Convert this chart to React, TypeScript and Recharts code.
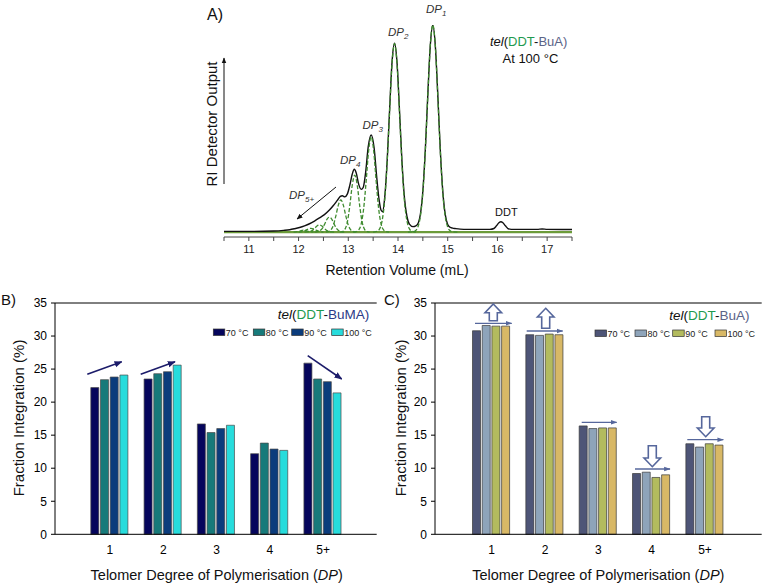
import React from 'react';
import { LineChart, Line, XAxis, YAxis, BarChart, Bar, ReferenceLine } from 'recharts';

const FONT = '"Liberation Sans", Arial, Helvetica, sans-serif';

// ---------- Panel A: chromatogram (retention volume mL, RI signal, relative) ----------
const volumeTicks = [10.5, 11, 11.5, 12, 12.5, 13, 13.5, 14, 14.5, 15, 15.5, 16, 16.5, 17, 17.5];

const traceVolume = [10.5, 11.0, 11.5, 11.7, 11.82, 11.92, 12.02, 12.12, 12.22, 12.32, 12.42, 12.52, 12.62, 12.7, 12.78, 12.84, 12.88, 12.93, 12.98, 13.03, 13.08, 13.12, 13.16, 13.21, 13.26, 13.3, 13.35, 13.4, 13.46, 13.52, 13.57, 13.62, 13.66, 13.69, 13.73, 13.78, 13.83, 13.88, 13.93, 13.98, 14.03, 14.08, 14.13, 14.18, 14.23, 14.3, 14.36, 14.41, 14.45, 14.5, 14.55, 14.6, 14.65, 14.7, 14.75, 14.8, 14.85, 14.9, 14.95, 15.0, 15.05, 15.1, 15.15, 15.25, 15.4, 15.85, 15.93, 15.98, 16.03, 16.07, 16.11, 16.16, 16.21, 16.28, 16.8, 16.9, 17.0, 17.5];
const traceSignal = [0.3, 0.3, 0.5, 0.8, 1.1, 1.6, 2.2, 3.0, 4.0, 5.3, 6.8, 8.4, 10.6, 12.8, 15.3, 17.2, 17.5, 17.0, 18.3, 22.5, 28.0, 30.3, 28.5, 23.0, 20.6, 21.5, 29.0, 41.0, 46.9, 40.5, 27.0, 15.5, 10.5, 9.8, 16.0, 33.5, 58.5, 82.0, 91.2, 82.0, 58.8, 34.0, 16.5, 7.5, 3.8, 2.6, 3.0, 4.5, 8.5, 19.8, 40.0, 66.5, 90.2, 100, 90.2, 66.5, 40.0, 20.0, 8.5, 3.6, 2.2, 1.9, 1.7, 1.4, 1.3, 1.3, 1.7, 3.0, 4.5, 5.0, 4.5, 3.0, 1.7, 1.3, 1.3, 1.5, 1.3, 1.2];

const baselineVolume = [10.5, 17.5];
const baselineSignal = [0, 0];

// deconvoluted DP fractions [volume, signal]
const fitDP1 = [[14.2, 0], [14.3, 0.1], [14.35, 0.6], [14.4, 2.4], [14.45, 7.6], [14.5, 19.1], [14.55, 39.5], [14.6, 66.2], [14.65, 90.2], [14.7, 100], [14.75, 90.2], [14.8, 66.2], [14.85, 39.5], [14.9, 19.1], [14.95, 7.6], [15.0, 2.4], [15.05, 0.6], [15.1, 0.1], [15.2, 0]];
const fitDP2 = [[13.5, 0], [13.58, 0.4], [13.63, 1.5], [13.68, 5.4], [13.73, 14.8], [13.78, 32.8], [13.83, 57.8], [13.88, 81.3], [13.93, 91], [13.98, 81.3], [14.03, 57.8], [14.08, 32.8], [14.13, 14.8], [14.18, 5.4], [14.23, 1.5], [14.28, 0.4], [14.36, 0]];
const fitDP3 = [[13.1, 0], [13.16, 0.2], [13.21, 1.0], [13.26, 3.9], [13.31, 11.5], [13.36, 24.8], [13.41, 39.4], [13.46, 46], [13.51, 39.4], [13.56, 24.8], [13.61, 11.5], [13.66, 3.9], [13.71, 1.0], [13.76, 0.2], [13.82, 0]];
const fitDP4 = [[12.83, 0], [12.88, 0.2], [12.93, 1.2], [12.98, 4.7], [13.03, 12.6], [13.08, 22.6], [13.13, 27.5], [13.18, 22.6], [13.23, 12.6], [13.28, 4.7], [13.33, 1.2], [13.38, 0.2], [13.43, 0]];
const fitDP5 = [[12.55, 0], [12.6, 0.2], [12.65, 1.0], [12.7, 3.3], [12.75, 7.8], [12.8, 13.0], [12.85, 15.5], [12.9, 13.0], [12.95, 7.8], [13.0, 3.3], [13.05, 1.0], [13.1, 0.2], [13.15, 0]];
const fitDP6 = [[12.32, 0], [12.37, 0.1], [12.42, 0.5], [12.47, 1.5], [12.52, 3.6], [12.57, 6.1], [12.62, 7.2], [12.67, 6.1], [12.72, 3.6], [12.77, 1.5], [12.82, 0.5], [12.87, 0.1], [12.92, 0]];
const fitDP7 = [[12.12, 0], [12.17, 0.05], [12.22, 0.2], [12.27, 0.7], [12.32, 1.7], [12.37, 2.9], [12.42, 3.4], [12.47, 2.9], [12.52, 1.7], [12.57, 0.7], [12.62, 0.2], [12.67, 0.05], [12.72, 0]];
const fitDP8 = [[12.0, 0], [12.05, 0.1], [12.1, 0.4], [12.15, 0.9], [12.2, 1.5], [12.25, 1.8], [12.3, 1.5], [12.35, 0.9], [12.4, 0.4], [12.45, 0.1], [12.5, 0]];
const fitDP9 = [[11.9, 0], [11.95, 0.1], [12.0, 0.3], [12.05, 0.7], [12.1, 0.9], [12.15, 0.7], [12.2, 0.3], [12.25, 0.1], [12.3, 0]];
const fitSeries = [fitDP1, fitDP2, fitDP3, fitDP4, fitDP5, fitDP6, fitDP7, fitDP8, fitDP9];

// ---------- Panels B & C: fraction integration (%) ----------
const dpCategories = ['1', '2', '3', '4', '5+'];
const fractionTicks = [0, 5, 10, 15, 20, 25, 30, 35];
const tempLabels = ['70 °C', '80 °C', '90 °C', '100 °C'];

const buma70 = [22.2, 23.5, 16.7, 12.2, 25.9];
const buma80 = [23.4, 24.3, 15.4, 13.8, 23.5];
const buma90 = [23.8, 24.6, 16.0, 12.9, 23.1];
const buma100 = [24.1, 25.6, 16.5, 12.7, 21.4];

const bua70 = [30.8, 30.2, 16.4, 9.2, 13.7];
const bua80 = [31.6, 30.1, 16.0, 9.4, 13.2];
const bua90 = [31.5, 30.3, 16.1, 8.6, 13.7];
const bua100 = [31.5, 30.2, 16.1, 9.0, 13.5];

const colorsB = ['#05055c', '#177a7a', '#0b3c7c', '#27dcdc'];
const colorsC = ['#4e5577', '#8ea4ba', '#b3bb5e', '#d8b866'];

const toXY = (xs: number[], ys: number[]) => xs.map((v, i) => ({ v, y: ys[i] }));
const pairs = (p: number[][]) => p.map(([v, y]) => ({ v, y }));

const traceData = toXY(traceVolume, traceSignal);
const baselineData = toXY(baselineVolume, baselineSignal);

const dataB = dpCategories.map((dp, i) => ({ dp, t70: buma70[i], t80: buma80[i], t90: buma90[i], t100: buma100[i] }));
const dataC = dpCategories.map((dp, i) => ({ dp, t70: bua70[i], t80: bua80[i], t90: bua90[i], t100: bua100[i] }));
const keys = ['t70', 't80', 't90', 't100'];

const DDT_GREEN = '#1f9a4f';

function DPLabel({ x, y, sub }: { x: number; y: number; sub: string }) {
  return (
    <text x={x} y={y} fontSize={11.5} fontStyle="italic" fill="#333" fontFamily={FONT}>
      DP<tspan dy={3} fontSize={8}>{sub}</tspan>
    </text>
  );
}

function BlockArrow({ cx, tip, base, dir }: { cx: number; tip: number; base: number; dir: 'up' | 'down' }) {
  const hw = 8.3, sw = 4;
  const s = dir === 'up' ? 1 : -1;
  const neck = tip + s * 8.7;
  const pts = [
    [cx, tip], [cx + hw, neck], [cx + sw, neck], [cx + sw, base], [cx - sw, base], [cx - sw, neck], [cx - hw, neck],
  ].map((p) => p.join(',')).join(' ');
  return <polygon points={pts} fill="#fff" stroke="#56679c" strokeWidth={1.6} strokeLinejoin="miter" />;
}

function Legend4({ x0s, y, colors }: { x0s: number[]; y: number; colors: string[] }) {
  return (
    <g>
      {tempLabels.map((t, i) => (
        <g key={t}>
          <rect x={x0s[i]} y={y} width={11.5} height={6.5} fill={colors[i]} stroke="#333" strokeWidth={0.7} />
          <text x={x0s[i] + 12.5} y={y + 6.8} fontSize={9} fill="#222" fontFamily={FONT}>{t}</text>
        </g>
      ))}
    </g>
  );
}

export default function App() {
  const tickStyle = { fontSize: 12, fill: '#000', fontFamily: FONT };
  return (
    <div style={{ position: 'absolute', left: 0, top: 0, width: 763, height: 586, background: '#fff', overflow: 'hidden', fontFamily: FONT }}>
      {/* Panel A */}
      <div style={{ position: 'absolute', left: 0, top: 0 }}>
        <LineChart width={763} height={300} margin={{ top: 25, right: 191, bottom: 33, left: 224 }}>
          <XAxis
            dataKey="v"
            type="number"
            domain={[10.5, 17.5]}
            ticks={volumeTicks}
            interval={0}
            allowDataOverflow
            tickFormatter={(t: number) => (Number.isInteger(t) ? String(t) : '')}
            height={30}
            tickSize={4}
            tickMargin={4}
            stroke="#444"
            tick={{ fontSize: 11, fill: '#222', fontFamily: FONT }}
          />
          <YAxis type="number" domain={[-2.4, 100]} hide allowDataOverflow />
          <Line data={baselineData} dataKey="y" type="linear" stroke="#6c9b3a" strokeWidth={2.2} dot={false} isAnimationActive={false} />
          <Line data={traceData} dataKey="y" type="monotone" stroke="#111" strokeWidth={1.4} dot={false} isAnimationActive={false} />
          {fitSeries.map((s, i) => (
            <Line key={i} data={pairs(s)} dataKey="y" type="monotone" stroke="#3f8b2f" strokeWidth={1.3} strokeDasharray="4 2" dot={false} isAnimationActive={false} />
          ))}
        </LineChart>
      </div>

      {/* Panel B */}
      <div style={{ position: 'absolute', left: 0, top: 290 }}>
        <BarChart width={380} height={296} data={dataB} margin={{ top: 13, right: 3.3, bottom: 21.7, left: 25 }} barCategoryGap={7.5} barGap={1.7}>
          <XAxis dataKey="dp" padding={{ left: 28.3, right: 27 }} tickLine={false} stroke="#000" height={30} tickSize={6} tickMargin={5} tick={tickStyle} />
          <YAxis domain={[0, 35]} ticks={fractionTicks} width={30} tickSize={4} tickMargin={4} stroke="#000" tick={tickStyle} />
          <YAxis yAxisId="r" orientation="right" domain={[0, 35]} width={0} tick={false} tickLine={false} stroke="#000" />
          <ReferenceLine y={35} stroke="#000" />
          {keys.map((k, i) => (
            <Bar key={k} dataKey={k} name={tempLabels[i]} fill={colorsB[i]} stroke="#4a4a4a" strokeWidth={0.7} isAnimationActive={false} />
          ))}
        </BarChart>
      </div>

      {/* Panel C */}
      <div style={{ position: 'absolute', left: 380, top: 290 }}>
        <BarChart width={383} height={296} data={dataC} margin={{ top: 13, right: 1.3, bottom: 21.7, left: 25 }} barCategoryGap={7.5} barGap={1.7}>
          <XAxis dataKey="dp" padding={{ left: 30, right: 30 }} tickLine={false} stroke="#000" height={30} tickSize={6} tickMargin={5} tick={tickStyle} />
          <YAxis domain={[0, 35]} ticks={fractionTicks} width={30} tickSize={4} tickMargin={4} stroke="#000" tick={tickStyle} />
          <YAxis yAxisId="r" orientation="right" domain={[0, 35]} width={0} tick={false} tickLine={false} stroke="#000" />
          <ReferenceLine y={35} stroke="#000" />
          {keys.map((k, i) => (
            <Bar key={k} dataKey={k} name={tempLabels[i]} fill={colorsC[i]} stroke="#3a3a3a" strokeWidth={0.7} isAnimationActive={false} />
          ))}
        </BarChart>
      </div>

      {/* Annotations */}
      <svg width={763} height={586} style={{ position: 'absolute', left: 0, top: 0, pointerEvents: 'none' }} fontFamily={FONT}>
        <defs>
          <marker id="hBlack" viewBox="0 0 10 10" refX="9" refY="5" markerWidth="6" markerHeight="6" orient="auto">
            <path d="M0,1 L10,5 L0,9 z" fill="#111" />
          </marker>
          <marker id="hNavy" viewBox="0 0 10 10" refX="9" refY="5" markerWidth="5" markerHeight="5" orient="auto">
            <path d="M0,1 L10,5 L0,9 z" fill="#1c1c6a" />
          </marker>
          <marker id="hSlate" viewBox="0 0 10 10" refX="9" refY="5" markerWidth="5" markerHeight="5" orient="auto">
            <path d="M0,1.5 L10,5 L0,8.5 z" fill="#56679c" />
          </marker>
        </defs>

        {/* Panel A texts */}
        <text x={207} y={20} fontSize={16} fill="#111">A)</text>
        <line x1={224} y1={184} x2={224} y2={58} stroke="#111" strokeWidth={1} markerEnd="url(#hBlack)" />
        <text transform="translate(217,124) rotate(-90)" textAnchor="middle" fontSize={15} fill="#111">RI Detector Output</text>
        <text x={397} y={275} textAnchor="middle" fontSize={14} fill="#111">Retention Volume (mL)</text>
        <DPLabel x={426} y={13} sub="1" />
        <DPLabel x={388} y={36} sub="2" />
        <DPLabel x={362.5} y={128.5} sub="3" />
        <DPLabel x={340} y={164} sub="4" />
        <DPLabel x={289} y={199} sub="5+" />
        <line x1={336} y1={187} x2={297} y2={219} stroke="#111" strokeWidth={1} markerEnd="url(#hBlack)" />
        <text x={495} y={216} fontSize={11} fill="#111">DDT</text>
        <text x={490} y={46} fontSize={13} fill="#111">
          <tspan fontStyle="italic">tel</tspan>(<tspan fill={DDT_GREEN}>DDT</tspan>-<tspan fill="#5b6487">BuA)</tspan>
        </text>
        <text x={502.5} y={63} fontSize={13} fill="#111">At 100 °C</text>

        {/* Panel B texts */}
        <text x={1} y={305} fontSize={15} fill="#111">B)</text>
        <text transform="translate(23.5,418) rotate(-90)" textAnchor="middle" fontSize={15} fill="#111">Fraction Integration (%)</text>
        <text x={216.7} y={580} textAnchor="middle" fontSize={14.5} fill="#111">
          Telomer Degree of Polymerisation (<tspan fontStyle="italic">DP</tspan>)
        </text>
        <text x={277.7} y={319} fontSize={13.5} fill="#111">
          <tspan fontStyle="italic">tel</tspan>(<tspan fill={DDT_GREEN}>DDT</tspan>-<tspan fill="#2c3a86">BuMA)</tspan>
        </text>
        <Legend4 x0s={[213.3, 253.3, 291.7, 331.7]} y={329} colors={colorsB} />
        <line x1={87.3} y1={374.3} x2={121.7} y2={361.7} stroke="#1c1c6a" strokeWidth={1.6} markerEnd="url(#hNavy)" />
        <line x1={140.7} y1={374.3} x2={175} y2={361.7} stroke="#1c1c6a" strokeWidth={1.6} markerEnd="url(#hNavy)" />
        <line x1={307.7} y1={355.7} x2={341.7} y2={379} stroke="#1c1c6a" strokeWidth={1.6} markerEnd="url(#hNavy)" />

        {/* Panel C texts */}
        <text x={384} y={305} fontSize={15} fill="#111">C)</text>
        <text transform="translate(405.5,418) rotate(-90)" textAnchor="middle" fontSize={15} fill="#111">Fraction Integration (%)</text>
        <text x={598.3} y={580} textAnchor="middle" fontSize={14.5} fill="#111">
          Telomer Degree of Polymerisation (<tspan fontStyle="italic">DP</tspan>)
        </text>
        <text x={669.3} y={320} fontSize={13.5} fill="#111">
          <tspan fontStyle="italic">tel</tspan>(<tspan fill={DDT_GREEN}>DDT</tspan>-<tspan fill="#5b6487">BuA)</tspan>
        </text>
        <Legend4 x0s={[595, 635, 672.7, 715]} y={330} colors={colorsC} />
        <line x1={475} y1={323.3} x2={511.7} y2={323.3} stroke="#56679c" strokeWidth={1.3} markerEnd="url(#hSlate)" />
        <line x1={526.7} y1={331} x2={562.7} y2={331} stroke="#56679c" strokeWidth={1.3} markerEnd="url(#hSlate)" />
        <line x1={581.7} y1={422.3} x2={616.7} y2={422.3} stroke="#56679c" strokeWidth={1.3} markerEnd="url(#hSlate)" />
        <line x1={635} y1={469} x2={670} y2={469} stroke="#56679c" strokeWidth={1.3} markerEnd="url(#hSlate)" />
        <line x1={687.3} y1={439.7} x2={723.3} y2={439.7} stroke="#56679c" strokeWidth={1.3} markerEnd="url(#hSlate)" />
        <BlockArrow cx={493.3} tip={304} base={320.7} dir="up" />
        <BlockArrow cx={545.7} tip={308.3} base={328.3} dir="up" />
        <BlockArrow cx={652.3} tip={466.7} base={445.7} dir="down" />
        <BlockArrow cx={705.7} tip={436.7} base={416.7} dir="down" />
      </svg>
    </div>
  );
}
